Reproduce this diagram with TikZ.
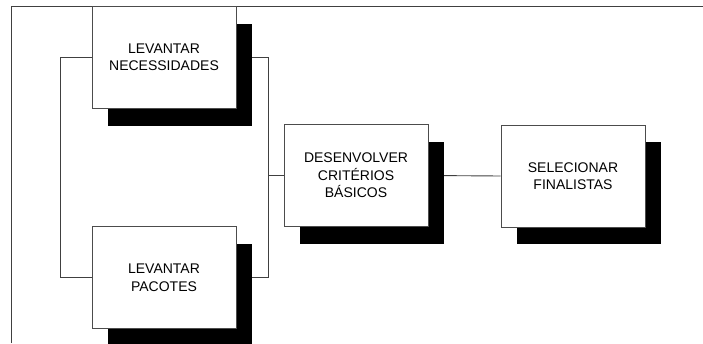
\documentclass[tikz,border=0pt]{standalone}
\usepackage{fontspec}
\setmainfont{Liberation Sans}
\usetikzlibrary{shadows,backgrounds}
\begin{document}
\begin{tikzpicture}[x=1pt,y=-1pt,
  procbox/.style={draw=black!70, line width=0.8pt, fill=white, minimum width=144pt, minimum height=102pt,
    align=center, inner sep=0pt, font=\fontsize{14pt}{17.5pt}\selectfont,
    drop shadow={shadow xshift=16pt, shadow yshift=-17pt, fill=black, opacity=1}},
  conn/.style={draw=black!75, line width=0.9pt}]
\useasboundingbox (0,0) rectangle (703,343);
\draw[conn] (11.5,343) -- (11.5,6.5) -- (703,6.5);
\node[procbox] (a) at (164,57.5) {LEVANTAR\\NECESSIDADES};
\node[procbox] (b) at (164,277.5) {LEVANTAR\\PACOTES};
\node[procbox] (c) at (356,175.5) {DESENVOLVER\\CRITÉRIOS\\BÁSICOS};
\node[procbox] (d) at (573,176) {SELECIONAR\\FINALISTAS};
\coordinate (j) at (268,175.5);
\begin{scope}[on background layer]
\draw[conn] (a.west) -- (60,57.5) -- (60,277.5) -- (b.west);
\draw[conn] (a.east) -- (268,57.5) -- (268,277.5) -- (b.east);
\draw[conn] (c.west) -- (j);
\draw[conn] (c.east) -- (d.west);
\end{scope}
\end{tikzpicture}
\end{document}
